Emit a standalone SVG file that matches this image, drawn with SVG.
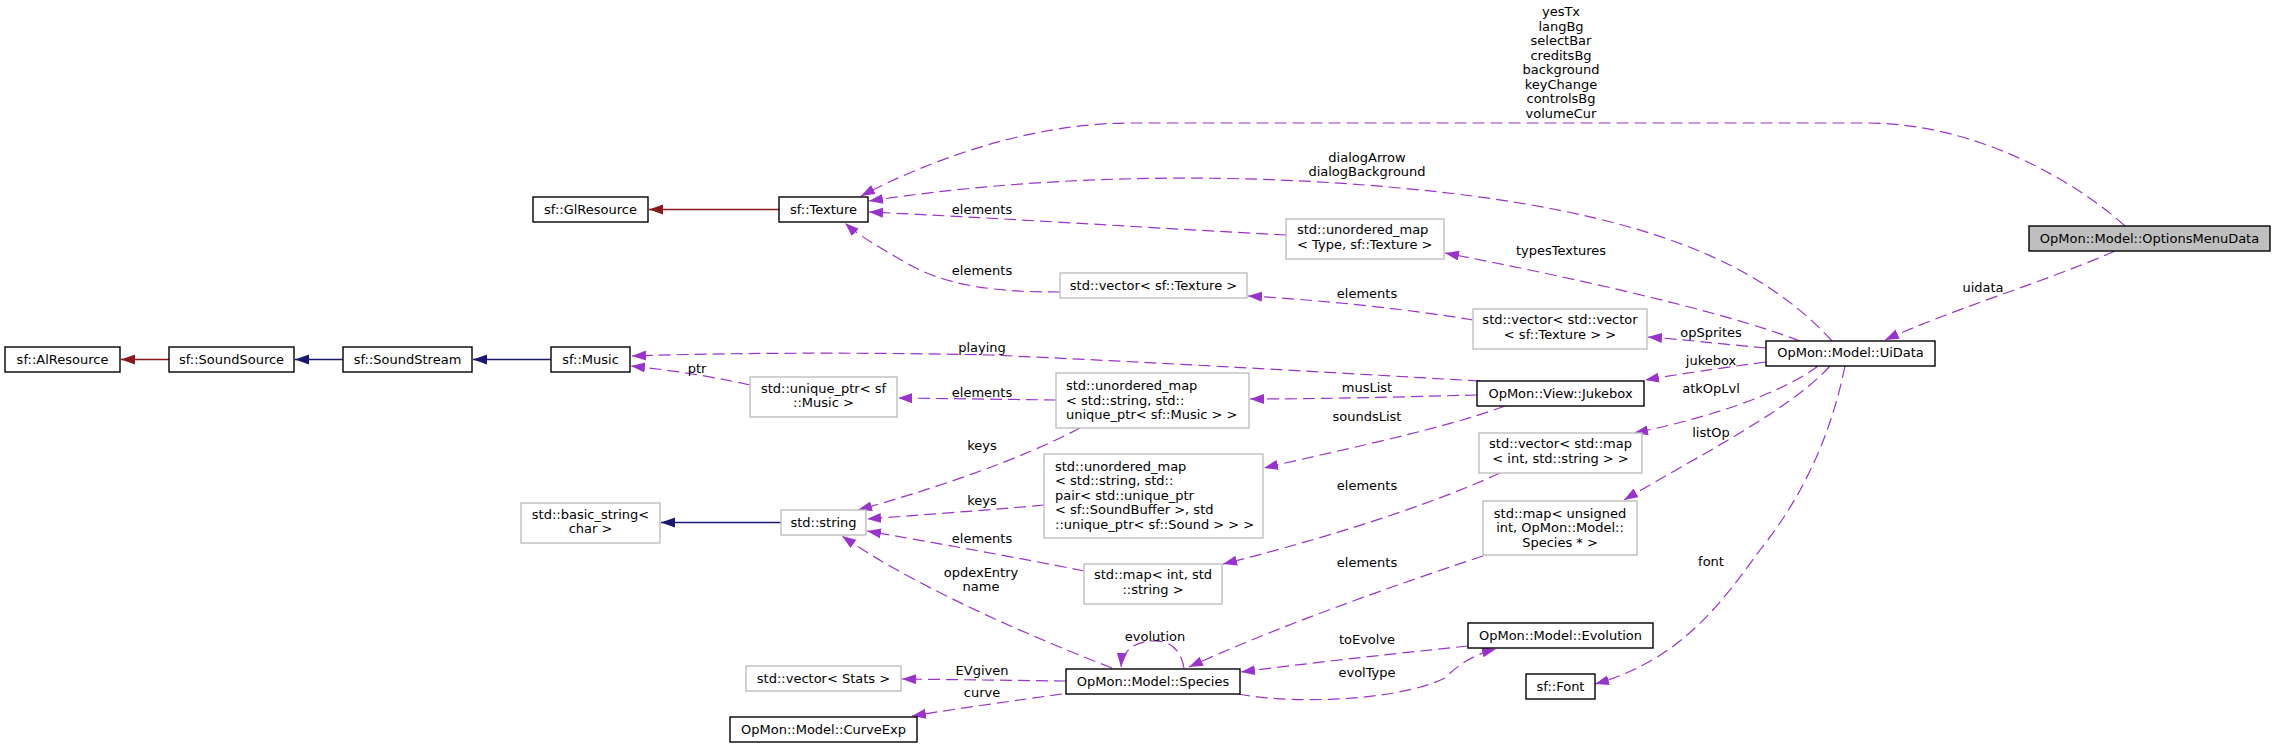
<svg xmlns="http://www.w3.org/2000/svg" width="2276" height="748" viewBox="0 0 2276 748">
<style>
text{font-family:"DejaVu Sans","Liberation Sans",sans-serif;font-size:13px;fill:#000}
.c{text-anchor:middle}
.l{text-anchor:start}
.nb rect{fill:#fff;stroke:#000;stroke-width:1.4}
.ng rect{fill:#fff;stroke:#bfbfbf;stroke-width:1.4}
.nf rect{fill:#bfbfbf;stroke:#000;stroke-width:1.4}
.d{fill:none;stroke:#9a32cd;stroke-width:1.2;stroke-dasharray:12,6;marker-end:url(#ap)}
.ib{fill:none;stroke:#191970;stroke-width:1.3;marker-end:url(#ab)}
.ir{fill:none;stroke:#8b1a1a;stroke-width:1.3;marker-end:url(#ar)}
</style>
<defs>
<marker id="ap" markerUnits="userSpaceOnUse" markerWidth="15" markerHeight="11" refX="14" refY="5" orient="auto"><path d="M0,0 L14,5 L0,10 z" fill="#9a32cd"/></marker>
<marker id="ab" markerUnits="userSpaceOnUse" markerWidth="15" markerHeight="11" refX="14" refY="5" orient="auto"><path d="M0,0 L14,5 L0,10 z" fill="#191970"/></marker>
<marker id="ar" markerUnits="userSpaceOnUse" markerWidth="15" markerHeight="11" refX="14" refY="5" orient="auto"><path d="M0,0 L14,5 L0,10 z" fill="#8b1a1a"/></marker>
</defs>
<rect width="2276" height="748" fill="#fff"/>
<g id="edges">
<path class="ir" d="M779,209.5 L649,209.5"/>
<path class="ib" d="M551,359.5 L473,359.5"/>
<path class="ib" d="M343,359.5 L295,359.5"/>
<path class="ir" d="M169,359.5 L121,359.5"/>
<path class="ib" d="M781,522.5 L661,522.5"/>
<path class="d" d="M2125,226 C2080,185 1980,123 1866,123 L1131,123 C1030,123 930,160 861,196"/>
<path class="d" d="M1832,341 C1760,262 1640,210 1400,188 C1250,174 1060,172 869,201"/>
<path class="d" d="M1286,235 C1150,228 1000,218 869,212"/>
<path class="d" d="M1060,292 C1000,292 950,287 910,265 C880,248 858,235 845,223"/>
<path class="d" d="M1800,341 C1720,310 1560,275 1445,253"/>
<path class="d" d="M1473,320 C1400,308 1320,300 1248,296"/>
<path class="d" d="M1766,348 C1720,344 1690,340 1648,337"/>
<path class="d" d="M1766,362 C1720,368 1680,374 1645,380"/>
<path class="d" d="M1480,381 C1320,372 1150,362 990,355 C850,352 720,353 632,356"/>
<path class="d" d="M750,385 C710,376 670,370 631,366"/>
<path class="d" d="M1056,400 L898,398"/>
<path class="d" d="M1477,395 C1400,397 1320,399 1250,399"/>
<path class="d" d="M1505,406 C1440,430 1340,450 1264,468"/>
<path class="d" d="M1080,428 C1020,460 930,490 858,510"/>
<path class="d" d="M1044,505 C990,510 920,515 867,519"/>
<path class="d" d="M1084,571 C1020,558 930,542 867,531"/>
<path class="d" d="M1112,668 C1040,640 920,590 842,536"/>
<path class="d" d="M1818,366 C1780,395 1700,420 1634,433"/>
<path class="d" d="M1500,473 C1420,510 1300,545 1223,564"/>
<path class="d" d="M1830,366 C1790,410 1700,455 1624,500"/>
<path class="d" d="M1483,556 C1380,590 1270,630 1189,667"/>
<path class="d" d="M1845,366 C1830,440 1800,500 1760,550 C1720,605 1680,660 1595,684"/>
<path class="d" d="M1184,668 C1180,645 1165,640 1152,641 C1135,642 1122,650 1121,667"/>
<path class="d" d="M1468,646 C1390,654 1310,663 1241,672"/>
<path class="d" d="M1238,694 C1300,705 1400,700 1445,678 C1458,665 1472,655 1496,649"/>
<path class="d" d="M1066,681 L902,679"/>
<path class="d" d="M1062,694 C1020,700 960,708 912,716"/>
<path class="d" d="M2115,251 C2050,280 1950,310 1885,340"/>
<text class="c" x="1561" y="16">yesTx</text>
<text class="c" x="1561" y="30.5">langBg</text>
<text class="c" x="1561" y="45">selectBar</text>
<text class="c" x="1561" y="59.5">creditsBg</text>
<text class="c" x="1561" y="74">background</text>
<text class="c" x="1561" y="88.5">keyChange</text>
<text class="c" x="1561" y="103">controlsBg</text>
<text class="c" x="1561" y="117.5">volumeCur</text>
<text class="c" x="1367" y="161.5">dialogArrow</text>
<text class="c" x="1367" y="176">dialogBackground</text>
<text class="c" x="982" y="213.5">elements</text>
<text class="c" x="982" y="274.5">elements</text>
<text class="c" x="1561" y="254.5">typesTextures</text>
<text class="c" x="1367" y="297.5">elements</text>
<text class="c" x="1711" y="336.5">opSprites</text>
<text class="c" x="1983" y="291.5">uidata</text>
<text class="c" x="1711" y="364.5">jukebox</text>
<text class="c" x="982" y="351.5">playing</text>
<text class="c" x="697" y="372.5">ptr</text>
<text class="c" x="1711" y="392.5">atkOpLvl</text>
<text class="c" x="1367" y="391.5">musList</text>
<text class="c" x="982" y="396.5">elements</text>
<text class="c" x="1367" y="420.5">soundsList</text>
<text class="c" x="1711" y="436.5">listOp</text>
<text class="c" x="982" y="449.5">keys</text>
<text class="c" x="1367" y="489.5">elements</text>
<text class="c" x="982" y="504.5">keys</text>
<text class="c" x="982" y="542.5">elements</text>
<text class="c" x="1711" y="565.5">font</text>
<text class="c" x="1367" y="566.5">elements</text>
<text class="c" x="981" y="576.5">opdexEntry</text>
<text class="c" x="981" y="591">name</text>
<text class="c" x="1155" y="640.5">evolution</text>
<text class="c" x="1367" y="643.5">toEvolve</text>
<text class="c" x="982" y="674.5">EVgiven</text>
<text class="c" x="1367" y="676.5">evolType</text>
<text class="c" x="982" y="696.5">curve</text>
</g>
<g id="n_optionsmenudata" class="nf"><rect x="2029" y="226" width="241" height="25"/><text class="c" x="2149.5" y="242.5">OpMon::Model::OptionsMenuData</text></g>
<g id="n_uidata" class="nb"><rect x="1766" y="341" width="169" height="25"/><text class="c" x="1850.5" y="357">OpMon::Model::UiData</text></g>
<g id="n_texture" class="nb"><rect x="779" y="197" width="89" height="25"/><text class="c" x="823.5" y="213.5">sf::Texture</text></g>
<g id="n_glresource" class="nb"><rect x="533" y="197" width="115" height="25"/><text class="c" x="590.5" y="213.5">sf::GlResource</text></g>
<g id="n_umap_type" class="ng"><rect x="1286" y="219" width="158" height="40"/><text class="l" x="1297" y="234">std::unordered_map</text><text class="l" x="1297" y="248.5">&lt; Type, sf::Texture &gt;</text></g>
<g id="n_vec_texture" class="ng"><rect x="1060" y="273" width="187" height="25"/><text class="c" x="1153.5" y="289.5">std::vector&lt; sf::Texture &gt;</text></g>
<g id="n_vecvec_texture" class="ng"><rect x="1473" y="309" width="174" height="40"/><text class="c" x="1560" y="324">std::vector&lt; std::vector</text><text class="c" x="1560" y="338.5">&lt; sf::Texture &gt; &gt;</text></g>
<g id="n_jukebox" class="nb"><rect x="1477" y="381" width="167" height="25"/><text class="c" x="1560.5" y="397.5">OpMon::View::Jukebox</text></g>
<g id="n_music" class="nb"><rect x="551" y="347" width="79" height="25"/><text class="c" x="590.5" y="363.5">sf::Music</text></g>
<g id="n_soundstream" class="nb"><rect x="343" y="347" width="129" height="25"/><text class="c" x="407.5" y="363.5">sf::SoundStream</text></g>
<g id="n_soundsource" class="nb"><rect x="169" y="347" width="125" height="25"/><text class="c" x="231.5" y="363.5">sf::SoundSource</text></g>
<g id="n_alresource" class="nb"><rect x="5" y="347" width="115" height="25"/><text class="c" x="62.5" y="363.5">sf::AlResource</text></g>
<g id="n_uptr_music" class="ng"><rect x="750" y="377" width="147" height="40"/><text class="c" x="823.5" y="392.5">std::unique_ptr&lt; sf</text><text class="c" x="823.5" y="407">::Music &gt;</text></g>
<g id="n_umap_music" class="ng"><rect x="1056" y="373" width="193" height="55"/><text class="l" x="1066" y="390">std::unordered_map</text><text class="l" x="1066" y="404.5">&lt; std::string, std::</text><text class="l" x="1066" y="419">unique_ptr&lt; sf::Music &gt; &gt;</text></g>
<g id="n_umap_sound" class="ng"><rect x="1044" y="454" width="219" height="84"/><text class="l" x="1055" y="470.5">std::unordered_map</text><text class="l" x="1055" y="485">&lt; std::string, std::</text><text class="l" x="1055" y="499.5">pair&lt; std::unique_ptr</text><text class="l" x="1055" y="514">&lt; sf::SoundBuffer &gt;, std</text><text class="l" x="1055" y="528.5">::unique_ptr&lt; sf::Sound &gt; &gt; &gt;</text></g>
<g id="n_basic_string" class="ng"><rect x="521" y="503" width="139" height="40"/><text class="c" x="590.5" y="518.5">std::basic_string&lt;</text><text class="c" x="590.5" y="533">char &gt;</text></g>
<g id="n_string" class="ng"><rect x="781" y="510" width="85" height="25"/><text class="c" x="823.5" y="526.5">std::string</text></g>
<g id="n_map_int_string" class="ng"><rect x="1084" y="564" width="138" height="40"/><text class="c" x="1153" y="579">std::map&lt; int, std</text><text class="c" x="1153" y="593.5">::string &gt;</text></g>
<g id="n_vec_map" class="ng"><rect x="1479" y="433" width="163" height="40"/><text class="c" x="1560.5" y="448">std::vector&lt; std::map</text><text class="c" x="1560.5" y="462.5">&lt; int, std::string &gt; &gt;</text></g>
<g id="n_map_species" class="ng"><rect x="1483" y="501" width="154" height="54"/><text class="c" x="1560" y="517.5">std::map&lt; unsigned</text><text class="c" x="1560" y="532">int, OpMon::Model::</text><text class="c" x="1560" y="546.5">Species * &gt;</text></g>
<g id="n_evolution" class="nb"><rect x="1468" y="623" width="185" height="25"/><text class="c" x="1560.5" y="639.5">OpMon::Model::Evolution</text></g>
<g id="n_font" class="nb"><rect x="1526" y="674" width="69" height="25"/><text class="c" x="1560.5" y="690.5">sf::Font</text></g>
<g id="n_species" class="nb"><rect x="1066" y="669" width="174" height="25"/><text class="c" x="1153" y="685.5">OpMon::Model::Species</text></g>
<g id="n_vec_stats" class="ng"><rect x="746" y="666" width="155" height="25"/><text class="c" x="823.5" y="682.5">std::vector&lt; Stats &gt;</text></g>
<g id="n_curveexp" class="nb"><rect x="730" y="717" width="187" height="25"/><text class="c" x="823.5" y="733.5">OpMon::Model::CurveExp</text></g>
</svg>
